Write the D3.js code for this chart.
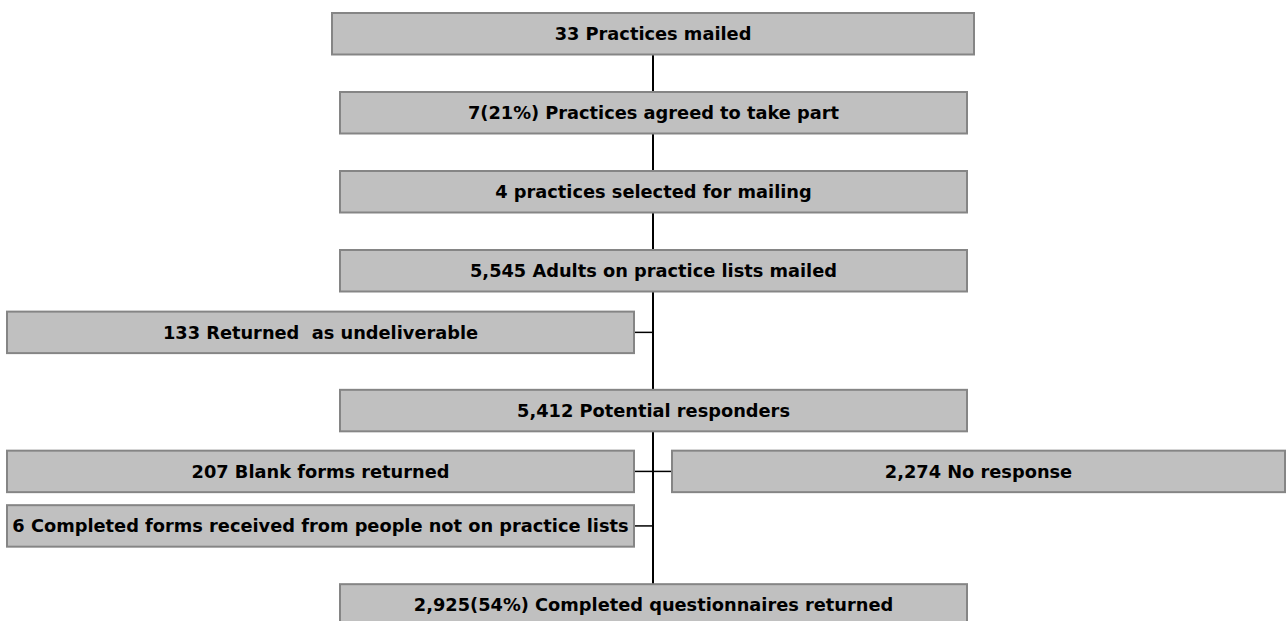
<!DOCTYPE html>
<html>
<head>
<meta charset="utf-8">
<script src="https://cdn.jsdelivr.net/npm/d3@7"></script>
<style>
  html, body { margin: 0; padding: 0; background: #fff; }
  svg { display: block; }
  text { white-space: pre; }
</style>
</head>
<body>
<svg id="chart" width="1287" height="621"></svg>
<script>
// ---- Data ----
const labels = [
  "33 Practices mailed",
  "7(21%) Practices agreed to take part",
  "4 practices selected for mailing",
  "5,545 Adults on practice lists mailed",
  "133 Returned  as undeliverable",
  "5,412 Potential responders",
  "207 Blank forms returned",
  "2,274 No response",
  "6 Completed forms received from people not on practice lists",
  "2,925(54%) Completed questionnaires returned"
];
const columns = ["head", "main", "main", "main", "left", "main", "left", "right", "left", "main"];
const steps = [0, 1, 2, 3, 3.78, 4.77, 5.54, 5.54, 6.23, 7.23];

// ---- Layout ----
const svg = d3.select("#chart");
const trunkX = 653;
const y = d3.scaleLinear().domain([0, 1]).range([13, 92]);
const colX = {
  head:  { x0: 332, x1: 974 },
  main:  { x0: 340, x1: 967 },
  left:  { x0: 7,   x1: 634 },
  right: { x0: 672, x1: 1285 }
};
const boxH = 41.5;

const nodes = labels.map((label, i) => ({
  label, col: columns[i], step: steps[i],
  x0: colX[columns[i]].x0, x1: colX[columns[i]].x1,
  y0: y(steps[i]), y1: y(steps[i]) + boxH
}));

const mainNodes = nodes.filter(n => n.col === "main" || n.col === "head");
const firstY = d3.min(mainNodes, n => n.y1);
const lastY = d3.max(mainNodes, n => n.y0);

// trunk
svg.append("line")
  .attr("x1", trunkX).attr("x2", trunkX)
  .attr("y1", firstY).attr("y2", lastY)
  .attr("stroke", "#000").attr("stroke-width", 2);

// side connectors
svg.selectAll("line.conn")
  .data(nodes.filter(n => n.col === "left" || n.col === "right"))
  .join("line")
  .attr("class", "conn")
  .attr("x1", d => d.col === "left" ? d.x1 : d.x0)
  .attr("x2", trunkX)
  .attr("y1", d => (d.y0 + d.y1) / 2)
  .attr("y2", d => (d.y0 + d.y1) / 2)
  .attr("stroke", "#000").attr("stroke-width", 1.5);

// boxes
const g = svg.selectAll("g.node").data(nodes).join("g").attr("class", "node");
g.append("rect")
  .attr("x", d => d.x0).attr("y", d => d.y0)
  .attr("width", d => d.x1 - d.x0).attr("height", d => d.y1 - d.y0)
  .attr("fill", "#c0c0c0").attr("stroke", "#858585").attr("stroke-width", 2);
g.append("text")
  .attr("x", d => (d.x0 + d.x1) / 2)
  .attr("y", d => (d.y0 + d.y1) / 2)
  .attr("text-anchor", "middle")
  .attr("dominant-baseline", "central")
  .attr("font-family", "'DejaVu Sans', Verdana, sans-serif")
  .attr("font-weight", "bold")
  .attr("font-size", 17.8)
  .attr("fill", "#000")
  .text(d => d.label);
</script>
</body>
</html>
